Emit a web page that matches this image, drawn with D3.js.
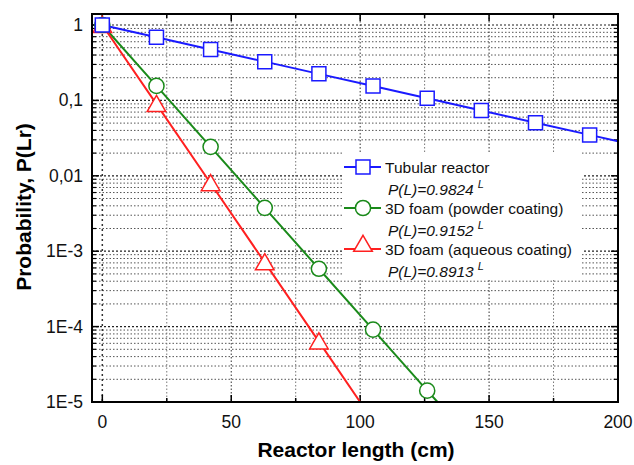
<!DOCTYPE html>
<html><head><meta charset="utf-8">
<script src="https://cdn.jsdelivr.net/npm/d3@7"></script>
<style>body{margin:0;background:#fff}svg{display:block}text{font-family:"Liberation Sans",Arial,sans-serif}</style>
</head><body><svg id="c" width="634" height="465"></svg>
<script>
// data
const markerX = [0, 21, 42, 63, 84, 105, 126, 147, 168, 189];
const tubularY = [1, 0.6888, 0.4744, 0.3267, 0.2250, 0.1550, 0.1067, 0.0735, 0.0506, 0.0349];
const powderX = [0, 21, 42, 63, 84, 105, 126];
const powderY = [1, 0.1556, 0.02421, 0.003764, 0.000585, 0.0000910, 0.00001415];
const aqueousX = [0, 21, 42, 63, 84];
const aqueousY = [1, 0.0892, 0.00796, 0.000710, 0.0000633];
// line end points (fit lines reach the plot edge)
const tubularLineEnd = [200, 0.0287];
const powderLineEnd = [130, 0.00001];
const aqueousLineEnd = [100, 0.00001];
const yTickVals = [1, 0.1, 0.01, 0.001, 0.0001, 0.00001];
const yTickLabels = ["1", "0,1", "0,01", "1E-3", "1E-4", "1E-5"];
const xTickVals = [0, 50, 100, 150, 200];
const legendNames = ["Tubular reactor", "3D foam (powder coating)", "3D foam (aqueous coating)"];
const legendFormulas = ["P(L)=0.9824", "P(L)=0.9152", "P(L)=0.8913"];

const svg = d3.select("#c");
const L = 92, R = 618, T = 14, B = 402;
const x = d3.scaleLinear().domain([-4, 200]).range([L, R]);
const y = d3.scaleLog().domain([1e-5, 1.4]).range([B, T]);

// grid
svg.append("clipPath").attr("id", "clip").append("rect").attr("x", L).attr("y", T).attr("width", R - L).attr("height", B - T);
const g = svg.append("g").attr("clip-path", "url(#clip)");
const minorY = [];
for (let e = -5; e <= 0; e++) for (let m = 2; m <= 9; m++) { const v = m * Math.pow(10, e); if (v < 1.4) minorY.push(v); }
g.selectAll(".gmy").data(minorY).enter().append("line")
  .attr("x1", L).attr("x2", R).attr("y1", d => y(d)).attr("y2", d => y(d))
  .attr("stroke", "#555").attr("stroke-width", 1).attr("stroke-dasharray", "1.5,2");
g.selectAll(".gMy").data(yTickVals).enter().append("line")
  .attr("x1", L).attr("x2", R).attr("y1", d => y(d)).attr("y2", d => y(d))
  .attr("stroke", "#222").attr("stroke-width", 1.2).attr("stroke-dasharray", "2,2");
const xGrid = d3.range(0, 200, 25);
g.selectAll(".gx").data(xGrid).enter().append("line")
  .attr("x1", d => x(d)).attr("x2", d => x(d)).attr("y1", T).attr("y2", B)
  .attr("stroke", d => d % 50 === 0 ? "#333" : "#777").attr("stroke-width", d => d === 0 ? 1.5 : 1).attr("stroke-dasharray", d => d === 0 ? "2,3" : "1.5,2");

// ticks
const tk = svg.append("g").attr("stroke", "#000").attr("stroke-width", 1.5);
d3.range(0, 201, 25).forEach(v => {
  const len = v % 50 === 0 ? 7 : 4;
  tk.append("line").attr("x1", x(v)).attr("x2", x(v)).attr("y1", B).attr("y2", B - len);
  tk.append("line").attr("x1", x(v)).attr("x2", x(v)).attr("y1", T).attr("y2", T + len);
});
yTickVals.forEach(v => {
  tk.append("line").attr("x1", L).attr("x2", L + 7).attr("y1", y(v)).attr("y2", y(v));
  tk.append("line").attr("x1", R).attr("x2", R - 7).attr("y1", y(v)).attr("y2", y(v));
});
minorY.forEach(v => {
  tk.append("line").attr("x1", L).attr("x2", L + 4).attr("y1", y(v)).attr("y2", y(v)).attr("stroke-width", 1.2);
  tk.append("line").attr("x1", R).attr("x2", R - 4).attr("y1", y(v)).attr("y2", y(v)).attr("stroke-width", 1.2);
});

// tick labels
svg.selectAll(".yl").data(yTickVals).enter().append("text")
  .attr("x", 83).attr("y", d => y(d) + 6).attr("text-anchor", "end").attr("font-size", 17.5).attr("fill", "#111")
  .text((d, i) => yTickLabels[i]);
svg.selectAll(".xl").data(xTickVals).enter().append("text")
  .attr("x", d => x(d)).attr("y", 428).attr("text-anchor", "middle").attr("font-size", 17.5).attr("fill", "#111")
  .text(d => d);

// axis titles
svg.append("text").attr("x", 356).attr("y", 457).attr("text-anchor", "middle").attr("font-size", 21).attr("font-weight", "bold").text("Reactor length (cm)");
svg.append("text").attr("transform", "translate(31,207) rotate(-90)").attr("text-anchor", "middle").attr("font-size", 21).attr("font-weight", "bold").text("Probability, P(Lr)");

// series
const colors = ["#1a1aff", "#1a8a1a", "#ff2020"];
const series = [
  {xs: markerX, ys: tubularY, end: tubularLineEnd, shape: "square"},
  {xs: powderX, ys: powderY, end: powderLineEnd, shape: "circle"},
  {xs: aqueousX, ys: aqueousY, end: aqueousLineEnd, shape: "triangle"}
];
const line = d3.line().x(d => x(d[0])).y(d => y(d[1]));
const shapes = {square: d3.symbolSquare, circle: d3.symbolCircle, triangle: d3.symbolTriangle};
const sizes = {square: 196, circle: 180, triangle: 150};
const pl = svg.append("g").attr("clip-path", "url(#clip)");
series.forEach((s, i) => {
  const pts = s.xs.map((v, j) => [v, s.ys[j]]).concat([s.end]);
  pl.append("path").attr("d", line(pts)).attr("fill", "none").attr("stroke", colors[i]).attr("stroke-width", 2);
});
series.slice().reverse().forEach((s, ri) => {
  const i = 2 - ri;
  svg.selectAll(".m" + i).data(s.xs.map((v, j) => [v, s.ys[j]])).enter().append("path")
    .attr("d", d3.symbol().type(shapes[s.shape]).size(sizes[s.shape]))
    .attr("transform", d => `translate(${x(d[0])},${y(d[1]) + (s.shape === "triangle" ? 2 : 0)})`)
    .attr("fill", "#fff").attr("stroke", colors[i]).attr("stroke-width", 1.5);
});

// frame
svg.append("rect").attr("x", L).attr("y", T).attr("width", R - L).attr("height", B - T).attr("fill", "none").attr("stroke", "#000").attr("stroke-width", 2);

// legend
const lg = svg.append("g");
lg.append("rect").attr("x", 342).attr("y", 152).attr("width", 240).attr("height", 128).attr("fill", "#fff");
const ly = [167, 208, 249];
legendNames.forEach((n, i) => {
  lg.append("line").attr("x1", 344).attr("x2", 381).attr("y1", ly[i]).attr("y2", ly[i]).attr("stroke", colors[i]).attr("stroke-width", 2);
  lg.append("path").attr("d", d3.symbol().type(shapes[series[i].shape]).size(sizes[series[i].shape]))
    .attr("transform", `translate(363,${ly[i] + (i === 2 ? -3 : 0)})`).attr("fill", "#fff").attr("stroke", colors[i]).attr("stroke-width", 1.5);
  lg.append("text").attr("x", 385).attr("y", ly[i] + 6).attr("font-size", 15.5).attr("fill", "#111").text(n);
  const t = lg.append("text").attr("x", 388).attr("y", ly[i] + 28).attr("font-size", 15.5).attr("font-style", "italic").attr("fill", "#111");
  t.append("tspan").text(legendFormulas[i]);
  t.append("tspan").attr("dx", 4).attr("dy", -7).attr("font-size", 11).text("L");
});
</script></body></html>
